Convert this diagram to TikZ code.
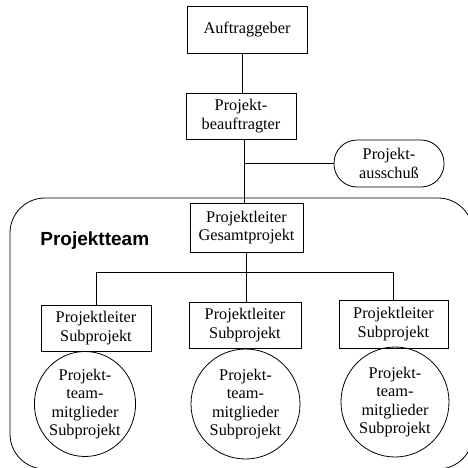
\documentclass[tikz,border=0pt]{standalone}
\usepackage{fontspec}
\setmainfont{Liberation Serif}
\setsansfont{Liberation Sans}
\usetikzlibrary{shapes.geometric}
\begin{document}
\begin{tikzpicture}[x=1pt,y=-1pt,line width=0.8pt,
  txt/.style={align=center,inner sep=0pt,font=\fontsize{16.3}{18.5}\selectfont},
  box/.style={txt,draw,rectangle},
  pill/.style={txt,draw,rectangle,rounded corners=23pt},
  oval/.style={txt,draw,ellipse}]
\useasboundingbox (0,0) rectangle (468,468);
\clip (0,0) rectangle (468,468);
% team frame
\draw[rounded corners=35pt] (10,198) rectangle (473,469);
\node[anchor=base west,inner sep=0pt,font=\fontsize{19}{19}\sffamily\bfseries] (pt) at (40,245) {Projektteam};
% nodes
\node[box,minimum width=120pt,minimum height=47pt] (auf) at (247,29.5) {Auftraggeber};
\node[box,minimum width=110pt,minimum height=46pt] (pb) at (241,116) {Projekt-\\beauftragter};
\node[pill,minimum width=110pt,minimum height=47pt] (pa) at (389,163.5) {Projekt-\\ausschuß};
\node[box,minimum width=113pt,minimum height=49pt] (gp) at (246.5,227.5) {Projektleiter\\Gesamtprojekt};
\node[box,minimum width=110pt,minimum height=46pt] (sl) at (96,328) {Projektleiter\\Subprojekt};
\node[box,minimum width=112pt,minimum height=46pt] (sm) at (245,325) {Projektleiter\\Subprojekt};
\node[box,minimum width=109pt,minimum height=48pt] (sr) at (393.5,324) {Projektleiter\\Subprojekt};
\node[oval,minimum width=90pt,minimum height=105pt] (el) at (85,404) {Projekt-\\team-\\mitglieder\\Subprojekt};
\node[oval,minimum width=109pt,minimum height=110pt] (em) at (245.5,404) {Projekt-\\team-\\mitglieder\\Subprojekt};
\node[oval,minimum width=108pt,minimum height=110pt] (er) at (395,402) {Projekt-\\team-\\mitglieder\\Subprojekt};
% connectors
\coordinate (top) at (242,0);
\draw (auf.south -| top) -- (pb.north -| top);
\coordinate (br) at (244,163.5);
\draw (pb.south -| br) -- (gp.north -| br);
\draw (br) -- (pa.west);
\coordinate (bus) at (246,272);
\draw (gp.south -| bus) -- (bus);
\draw (sl.north) -- (sl.north |- bus) -- (sr.north |- bus) -- (sr.north);
\draw (bus) -- (sm.north -| bus);
\end{tikzpicture}
\end{document}
